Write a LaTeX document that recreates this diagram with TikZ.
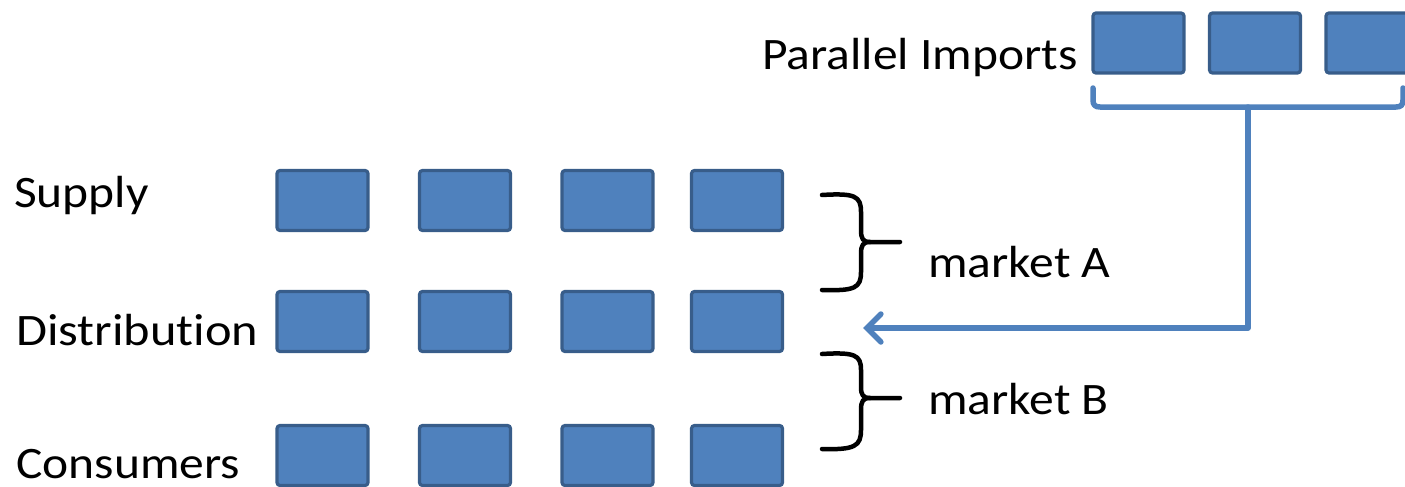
\documentclass[tikz,border=0pt]{standalone}
\usepackage{fontspec}
\setmainfont{Carlito}[Ligatures={NoCommon,NoContextual}]
\usetikzlibrary{arrows.meta}
\definecolor{boxfill}{HTML}{4F81BD}
\definecolor{boxline}{HTML}{385D8A}
\begin{document}
\begin{tikzpicture}[x=1pt,y=-1pt,
  blk/.style={draw=boxline,fill=boxfill,line width=3.2pt,rounded corners=3pt,minimum width=91pt,minimum height=60pt,inner sep=0pt},
  lbl/.style={anchor=base west,inner sep=0pt,font=\fontsize{45}{50}\selectfont},
  brc/.style={line width=4.5pt,black,line cap=round,line join=round},
  blu/.style={line width=5.5pt,color=boxfill,line cap=round,line join=round}]
\useasboundingbox (0,0) rectangle (1405,487);
% rows of boxes
\foreach \r/\y in {1/200.5,2/321.5,3/455.5}{
  \foreach \c/\x in {1/322.5,2/465,3/607.5,4/737}{
    \node[blk] (b\r\c) at (\x,\y) {};
  }
}
\foreach \c/\x in {1/1138.5,2/1255,3/1371.5}{
  \node[blk] (p\c) at (\x,43) {};
}
% labels
\node[lbl] (sup) at (14,207) {\scalebox{1.1}[1]{Supply}};
\node[lbl] (dis) at (16,345) {\scalebox{1.12}[1]{Distribut\kern0pt ion}};
\node[lbl] (con) at (16,478) {\scalebox{1.1}[1]{Consumers}};
\node[lbl] (par) at (762,70) {\scalebox{1.1}[1]{Parallel Imports}};
\node[lbl] (mA) at (928,277) {\scalebox{1.1}[1]{market A}};
\node[lbl] (mB) at (928,414) {\scalebox{1.1}[1]{market B}};
% braces
\draw[brc] (822,195) .. controls (855,193) and (861,196) .. (861,212) -- (861,230)
  .. controls (861,239) and (863,242) .. (870,242) -- (900,242);
\draw[brc] (870,242) .. controls (863,242) and (861,245) .. (861,254) -- (861,272)
  .. controls (861,288) and (855,291) .. (822,290);
\draw[brc] (822,354) .. controls (855,352) and (861,355) .. (861,370) -- (861,387)
  .. controls (861,395) and (863,398) .. (870,398) -- (900,398);
\draw[brc] (870,398) .. controls (863,398) and (861,401) .. (861,410) -- (861,430)
  .. controls (861,446) and (855,450) .. (822,449);
% bracket under parallel imports
\coordinate (brk) at (1248,107);
\coordinate (tgt) at (863,328);
\draw[blu] (1093,88) -- (1093,100) .. controls (1093,105) and (1095,107) .. (1100,107) -- (1396,107)
  .. controls (1401,107) and (1403,105) .. (1403,100) -- (1403,88);
\draw[blu,-{Straight Barb[length=14pt,width=28pt,line cap=round]}] (brk) |- (tgt);
\end{tikzpicture}
\end{document}
